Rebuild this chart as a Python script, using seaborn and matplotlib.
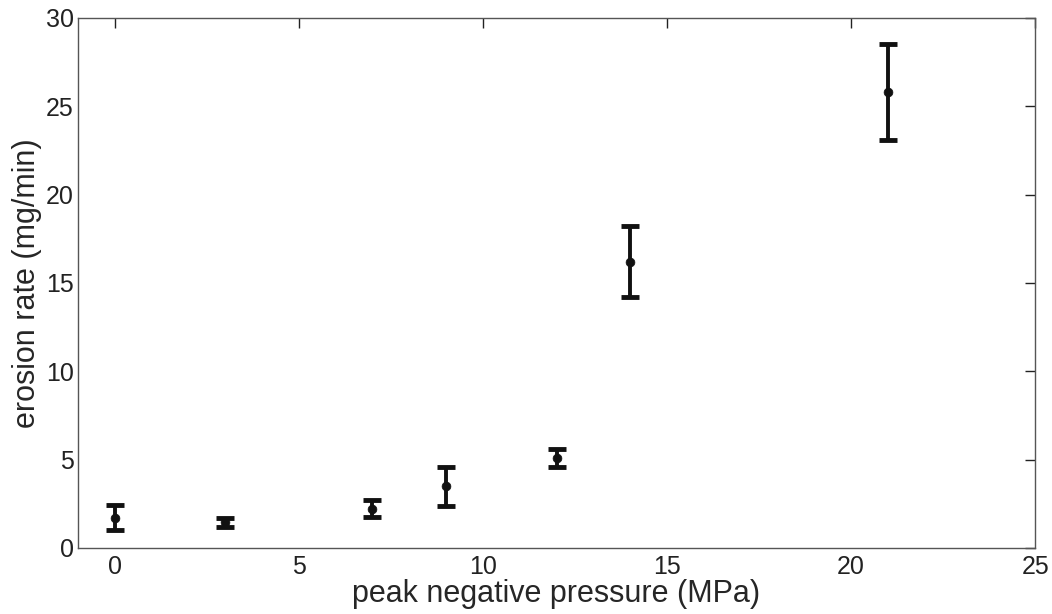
import matplotlib
matplotlib.use("Agg")
import matplotlib.pyplot as plt
import seaborn as sns
import pandas as pd

pressure = [0, 3, 7, 9, 12, 14, 21]
erosion = [1.7, 1.45, 2.2, 3.5, 5.1, 16.2, 25.8]
err_low = [0.7, 0.25, 0.45, 1.15, 0.5, 2.0, 2.7]
err_high = [0.75, 0.25, 0.5, 1.1, 0.5, 2.0, 2.7]
x_ticks = [0, 5, 10, 15, 20, 25]
y_ticks = [0, 5, 10, 15, 20, 25, 30]

df = pd.DataFrame({"pressure": pressure, "erosion": erosion})

sns.set_style("white")
plt.rcParams["font.family"] = ["Liberation Sans", "DejaVu Sans"]

fig = plt.figure(figsize=(10.52, 6.14), dpi=100)
ax = fig.add_axes([0.0741, 0.1075, 0.9099, 0.8632])

ax.errorbar(df["pressure"], df["erosion"], yerr=[err_low, err_high],
            fmt="none", ecolor="#111111", elinewidth=2.8, capsize=6.5, capthick=3.5)
sns.scatterplot(data=df, x="pressure", y="erosion", ax=ax, color="#111111",
                s=40, edgecolor="#111111", zorder=3)

ax.set_xlim(-1, 25)
ax.set_ylim(0, 30)
ax.set_xticks(x_ticks)
ax.set_yticks(y_ticks)
ax.tick_params(direction="in", length=7, width=1, top=True, right=True,
               labelsize=18, colors="#222222")
ax.tick_params(axis="x", pad=5)
ax.tick_params(axis="y", pad=3)
for sp in ax.spines.values():
    sp.set_color("#555555")
    sp.set_linewidth(1)
ax.set_xlabel("peak negative pressure (MPa)", fontsize=22, labelpad=0)
ax.set_ylabel("erosion rate (mg/min)", fontsize=22, labelpad=3)

fig.savefig("out.png", dpi=100)
